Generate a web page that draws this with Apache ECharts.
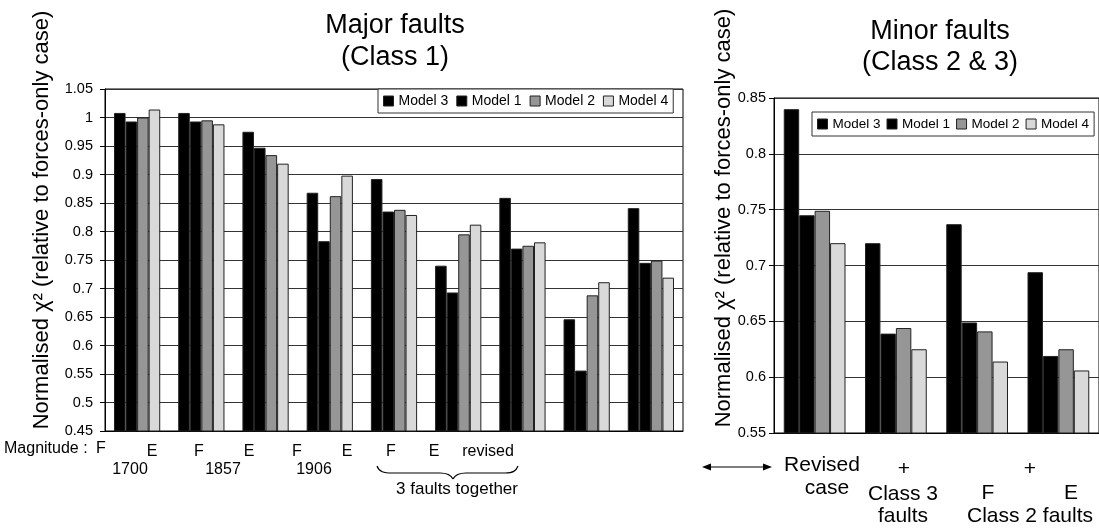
<!DOCTYPE html>
<html>
<head>
<meta charset="utf-8">
<script src="https://cdn.jsdelivr.net/npm/echarts@6/dist/echarts.min.js"></script>
<style>
  html, body { margin: 0; padding: 0; background: #fff; }
  #chart { width: 1099px; height: 529px; }
</style>
</head>
<body>
<div id="chart"></div>
<script>
// ---- data ----
var seriesNames = ['Model 3', 'Model 1', 'Model 2', 'Model 4'];
var seriesColors = ['#000000', '#000000', '#969696', '#d9d9d9'];

// major faults (class 1)
var majorCategories = ['1700 F', '1700 E', '1857 F', '1857 E', '1906 F', '1906 E', 'together F', 'together E', 'revised'];
var majorModel3 = [1.008, 1.008, 0.975, 0.868, 0.892, 0.740, 0.859, 0.646, 0.841];
var majorModel1 = [0.993, 0.993, 0.947, 0.783, 0.835, 0.693, 0.770, 0.556, 0.745];
var majorModel2 = [1.000, 0.995, 0.934, 0.862, 0.838, 0.795, 0.775, 0.688, 0.749];
var majorModel4 = [1.014, 0.988, 0.919, 0.898, 0.829, 0.812, 0.781, 0.711, 0.719];

// minor faults (class 2 & 3)
var minorCategories = ['Revised case', '+ Class 3 faults', '+ Class 2 faults F', '+ Class 2 faults E'];
var minorModel3 = [0.840, 0.720, 0.737, 0.694];
var minorModel1 = [0.745, 0.639, 0.649, 0.619];
var minorModel2 = [0.749, 0.644, 0.641, 0.625];
var minorModel4 = [0.720, 0.625, 0.614, 0.606];

var majorTicks = { min: 0.45, max: 1.05, interval: 0.05 };
var minorTicks = { min: 0.55, max: 0.85, interval: 0.05 };

var FONT = "'Liberation Sans', Arial, Helvetica, sans-serif";
var chart = echarts.init(document.getElementById('chart'));

function txt(text, x, y, size, extra) {
    var el = {
        type: 'text',
        x: x, y: y,
        silent: true,
        style: {
            text: text,
            fontFamily: FONT,
            fontSize: size,
            fill: '#000',
            align: 'center', textAlign: 'center',
            verticalAlign: 'middle', textVerticalAlign: 'middle'
        }
    };
    if (extra) {
        for (var k in extra) {
            if (k === 'style') Object.assign(el.style, extra.style);
            else el[k] = extra[k];
        }
    }
    return el;
}

function curve(x1, y1, cx1, cy1, cx2, cy2, x2, y2) {
    return {
        type: 'bezierCurve', silent: true,
        shape: { x1: x1, y1: y1, cpx1: cx1, cpy1: cy1, cpx2: cx2, cpy2: cy2, x2: x2, y2: y2 },
        style: { fill: null, stroke: '#000', lineWidth: 1.2 }
    };
}

function seg(x1, y1, x2, y2) {
    return { type: 'line', silent: true, shape: { x1: x1, y1: y1, x2: x2, y2: y2 }, style: { stroke: '#000', lineWidth: 1.2 } };
}

function makeSeries(data, idx, gridIdx, catGap) {
    return {
        name: seriesNames[idx],
        type: 'bar',
        xAxisIndex: gridIdx,
        yAxisIndex: gridIdx,
        data: data,
        barGap: '0%',
        barCategoryGap: catGap,
        itemStyle: { color: seriesColors[idx], borderColor: '#222', borderWidth: 1 },
        emphasis: { disabled: true },
        animation: false
    };
}

function legendAt(left, top, size, gap) {
    return {
        left: left, top: top,
        orient: 'horizontal',
        data: seriesNames,
        icon: 'rect',
        itemWidth: 10, itemHeight: 10, itemGap: gap,
        padding: [5, 5],
        backgroundColor: '#fff',
        borderColor: '#333', borderWidth: 1,
        selectedMode: false,
        itemStyle: { borderColor: '#222', borderWidth: 1 },
        textStyle: { fontFamily: FONT, fontSize: size, color: '#000' }
    };
}

function yAxisFor(gridIdx, ticks, margin) {
    return {
        type: 'value', gridIndex: gridIdx,
        min: ticks.min, max: ticks.max, interval: ticks.interval,
        axisLine: { show: true, lineStyle: { color: '#000', width: 1 } },
        axisTick: { show: true, length: 5, lineStyle: { color: '#000' } },
        axisLabel: {
            fontFamily: FONT, fontSize: 14.5, color: '#000', margin: margin,
            formatter: function (v) { return String(parseFloat(v.toFixed(2))); }
        },
        splitLine: { show: true, lineStyle: { color: '#333', width: 1 } }
    };
}

function xAxisFor(gridIdx, cats) {
    return {
        type: 'category', gridIndex: gridIdx, data: cats,
        axisLine: { show: true, lineStyle: { color: '#000', width: 1 } },
        axisTick: { show: false },
        axisLabel: { show: false }
    };
}

var yTitle = 'Normalised \u03c7\u00b2 (relative to forces-only case)';

var option = {
    backgroundColor: '#fff',
    animation: false,
    grid: [
        { left: 105, top: 89, width: 578, height: 342, show: true, borderColor: '#000', borderWidth: 1, backgroundColor: 'transparent' },
        { left: 774, top: 98, right: 0, height: 335, show: true, borderColor: '#000', borderWidth: 1, backgroundColor: 'transparent' }
    ],
    legend: [legendAt(378, 89, 14, 8), legendAt(812, 112, 13.5, 6)],
    xAxis: [xAxisFor(0, majorCategories), xAxisFor(1, minorCategories)],
    yAxis: [yAxisFor(0, majorTicks, 12), yAxisFor(1, minorTicks, 8)],
    series: [
        makeSeries(majorModel3, 0, 0, '28%'),
        makeSeries(majorModel1, 1, 0, '28%'),
        makeSeries(majorModel2, 2, 0, '28%'),
        makeSeries(majorModel4, 3, 0, '28%'),
        makeSeries(minorModel3, 0, 1, '24%'),
        makeSeries(minorModel1, 1, 1, '24%'),
        makeSeries(minorModel2, 2, 1, '24%'),
        makeSeries(minorModel4, 3, 1, '24%')
    ],
    graphic: [
        // panel titles
        txt('Major faults\n(Class 1)', 395, 42, 27, { style: { lineHeight: 32 } }),
        txt('Minor faults\n(Class 2 & 3)', 940, 47, 27, { style: { lineHeight: 31 } }),
        // y axis names
        txt(yTitle, 42, 220, 22, { rotation: Math.PI / 2 }),
        txt(yTitle, 724, 218, 22, { rotation: Math.PI / 2 }),
        // left panel category labels
        txt('Magnitude :', 4, 449, 16, { style: { align: 'left', textAlign: 'left' } }),
        txt('F', 101, 449, 16),
        txt('E', 152, 452, 16),
        txt('F', 199, 452, 16),
        txt('E', 249, 452, 16),
        txt('F', 297, 452, 16),
        txt('E', 347, 452, 16),
        txt('F', 391, 452, 16),
        txt('E', 434, 452, 16),
        txt('revised', 488, 452, 16),
        txt('1700', 130, 470, 16),
        txt('1857', 223, 470, 16),
        txt('1906', 314, 470, 16),
        txt('3 faults together', 457, 489, 17),
        // brace under the last three groups
        curve(377, 466, 379, 472, 384, 473, 392, 473),
        seg(392, 473, 440, 473),
        curve(440, 473, 448, 473, 451, 475, 453, 479),
        curve(453, 479, 455, 475, 458, 473, 466, 473),
        seg(466, 473, 505, 473),
        curve(505, 473, 513, 473, 516, 471, 518, 466),
        // double arrow
        seg(706, 467, 768, 467),
        { type: 'polygon', silent: true, shape: { points: [[702, 467], [711, 463.5], [711, 470.5]] }, style: { fill: '#000' } },
        { type: 'polygon', silent: true, shape: { points: [[772, 467], [763, 463.5], [763, 470.5]] }, style: { fill: '#000' } },
        // right panel category labels
        txt('Revised', 822, 465, 21),
        txt('case', 827, 488, 21),
        txt('+', 904, 469, 21),
        txt('Class 3', 903, 494, 21),
        txt('faults', 903, 516, 21),
        txt('+', 1030, 469, 21),
        txt('F', 988, 493, 21),
        txt('E', 1071, 493, 21),
        txt('Class 2 faults', 1030, 516, 21)
    ]
};

chart.setOption(option);
</script>
</body>
</html>
